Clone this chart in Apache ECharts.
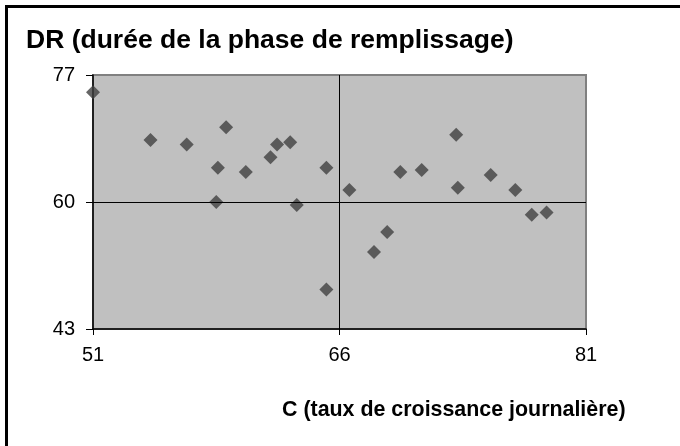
<!DOCTYPE html>
<html>
<head>
<meta charset="utf-8">
<script src="https://cdn.jsdelivr.net/npm/echarts@6/dist/echarts.min.js"></script>
<style>
  html, body { margin: 0; padding: 0; background: #fff; }
  #chart { width: 680px; height: 446px; }
</style>
</head>
<body>
<div id="chart"></div>
<script>
// données
const cValues = [51.0, 54.5, 56.7, 59.1, 58.6, 58.5, 60.3, 61.8, 62.2, 63.0, 63.4, 65.2, 65.2,
  66.6, 68.1, 68.9, 69.7, 71.0, 73.1, 73.2, 75.2, 76.7, 77.7, 78.6];
const drValues = [74.7, 68.3, 67.7, 70.0, 64.6, 60.0, 64.0, 66.0, 67.7, 68.0, 59.6, 64.6, 48.3,
  61.6, 53.3, 56.0, 64.0, 64.3, 69.0, 61.9, 63.6, 61.6, 58.3, 58.6];
const xTicks = [51, 66, 81];
const yTicks = [43, 60, 77];

const points = cValues.map((c, i) => [c, drValues[i]]);

const chart = echarts.init(document.getElementById("chart"));

const font = "Liberation Sans, Arial, sans-serif";

chart.setOption({
  animation: false,
  backgroundColor: "#fff",
  title: [
    {
      text: "DR (durée de la phase de remplissage)",
      left: 26,
      top: 27,
      padding: 0,
      textStyle: { fontFamily: font, fontSize: 26.5, fontWeight: "bold", color: "#000" },
    },
    {
      text: "C (taux de croissance journalière)",
      left: 282,
      top: 400,
      padding: 0,
      textStyle: { fontFamily: font, fontSize: 21.4, fontWeight: "bold", color: "#000" },
    },
  ],
  // cadre extérieur (coupé à droite et en bas)
  graphic: [
    {
      type: "rect",
      shape: { x: 6.5, y: 6.5, width: 720, height: 480 },
      style: { fill: "none", stroke: "#000", lineWidth: 3 },
      silent: true,
    },
  ],
  grid: {
    left: 93,
    top: 75,
    right: 94,
    bottom: 117,
    show: true,
    backgroundColor: "#c0c0c0",
    borderColor: "#808080",
    borderWidth: 2,
  },
  xAxis: {
    type: "value",
    min: xTicks[0],
    max: xTicks[xTicks.length - 1],
    axisLine: { show: true, onZero: false, lineStyle: { color: "#000", width: 1.5 } },
    axisTick: { show: true, customValues: xTicks, length: 6, lineStyle: { color: "#000" } },
    axisLabel: {
      customValues: xTicks,
      margin: 16,
      fontFamily: font,
      fontSize: 20,
      color: "#000",
    },
    splitLine: { show: false },
  },
  yAxis: {
    type: "value",
    min: yTicks[0],
    max: yTicks[yTicks.length - 1],
    axisLine: { show: true, onZero: false, lineStyle: { color: "#000", width: 1.5 } },
    axisTick: { show: true, customValues: yTicks, length: 7, lineStyle: { color: "#000" } },
    axisLabel: {
      customValues: yTicks,
      margin: 18,
      fontFamily: font,
      fontSize: 20,
      color: "#000",
    },
    splitLine: { show: false },
  },
  series: [
    {
      type: "scatter",
      data: points,
      symbol: "diamond",
      symbolSize: 14,
      itemStyle: { color: "#404040" },
      markLine: {
        silent: true,
        symbol: "none",
        label: { show: false },
        lineStyle: { color: "#000", width: 1, type: "solid" },
        data: [{ xAxis: xTicks[1] }, { yAxis: yTicks[1] }],
      },
      z: 3,
    },
  ],
});
</script>
</body>
</html>
